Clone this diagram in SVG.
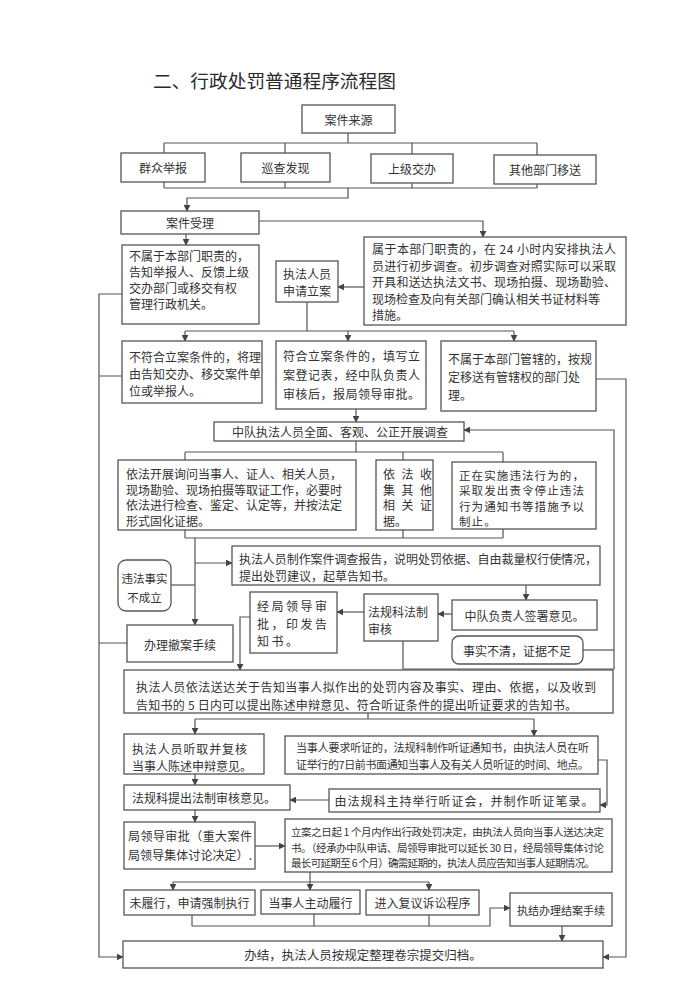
<svg xmlns="http://www.w3.org/2000/svg" width="700" height="989" viewBox="0 0 700 989">
<style>
  .b{fill:#fff;stroke:#555;stroke-width:1.3}
  .c{fill:none;stroke:#555;stroke-width:1.2}
  .t{font-family:"Noto Sans CJK SC","Noto Sans",sans-serif;font-size:12px;fill:#333;dominant-baseline:central}
  .m{text-anchor:middle}
  .s{font-size:11px}
  .xs{font-size:10.5px}
</style>
<defs>
  <marker id="ah" viewBox="0 0 10 10" refX="9" refY="5" markerWidth="7" markerHeight="7" markerUnits="userSpaceOnUse" orient="auto">
    <path d="M0,0 L10,5 L0,10 z" fill="#444"/>
  </marker>
</defs>
<rect width="700" height="989" fill="#fff"/>
<text x="153" y="79" class="t" style="font-size:18.7px;fill:#2a2a2a">二、行政处罚普通程序流程图</text>

<g id="connectors" class="c">
  <path d="M348,133 V143 M164,143 H537 M164,143 V153 M285,143 V153 M412,143 V154 M537,143 V155"/>
  <path d="M164,182 V188 M285,182 V188 M412,183 V188 M537,184 V188 M164,188 H537"/>
  <path d="M348,188 V198 H187 V211" marker-end="url(#ah)"/>
  <path d="M259,221 H483 V237" marker-end="url(#ah)"/>
  <path d="M186,234 V245" marker-end="url(#ah)"/>
  <path d="M364,287 H338" marker-end="url(#ah)"/>
  <path d="M307,302 V331 M185,331 H514"/>
  <path d="M185,331 V341" marker-end="url(#ah)"/>
  <path d="M348,331 V341" marker-end="url(#ah)"/>
  <path d="M514,331 V341" marker-end="url(#ah)"/>
  <path d="M122,294 H99 V957 H123" marker-end="url(#ah)"/>
  <path d="M122,376 H99 M127,643 H99"/>
  <path d="M596,379 H626 V957 H603" marker-end="url(#ah)"/>
  <path d="M356,409 V422" marker-end="url(#ah)"/>
  <path d="M403,641 V669 H614 V430 H464" marker-end="url(#ah)"/>
  <path d="M583,650 H614"/>
  <path d="M356,441 V452 M185,452 H503 M185,452 V460 M403,452 V460 M503,452 V462"/>
  <path d="M185,530 V538 M403,530 V538 M503,529 V538 M185,538 H503"/>
  <path d="M195,538 V625" marker-end="url(#ah)"/>
  <path d="M195,563 H232" marker-end="url(#ah)"/>
  <path d="M171,585 H195"/>
  <path d="M526,585 V600" marker-end="url(#ah)"/>
  <path d="M452,614 H438" marker-end="url(#ah)"/>
  <path d="M364,612 H337" marker-end="url(#ah)"/>
  <path d="M250,617 H240 V670" marker-end="url(#ah)"/>
  <path d="M368,713 V719 M195,719 H534"/>
  <path d="M195,719 V734" marker-end="url(#ah)"/>
  <path d="M534,719 V736" marker-end="url(#ah)"/>
  <path d="M195,774 V785" marker-end="url(#ah)"/>
  <path d="M329,800 H290" marker-end="url(#ah)"/>
  <path d="M598,760 H607 V805 H600" marker-end="url(#ah)"/>
  <path d="M195,810 V822" marker-end="url(#ah)"/>
  <path d="M255,846 H285" marker-end="url(#ah)"/>
  <path d="M310,872 V890" marker-end="url(#ah)"/>
  <path d="M173,882 H429"/>
  <path d="M173,882 V890" marker-end="url(#ah)"/>
  <path d="M429,882 V890" marker-end="url(#ah)"/>
  <path d="M192,915 V926 M314,914 V926 M429,915 V926"/>
  <path d="M192,926 H490 V908 H510" marker-end="url(#ah)"/>
  <path d="M562,926 V941" marker-end="url(#ah)"/>
</g>

<g id="n-source"><rect class="b" x="302" y="105" width="93" height="28"/><text class="t m" x="348.5" y="119">案件来源</text></g>
<g id="n-report"><rect class="b" x="121" y="153" width="84" height="29"/><text class="t m" x="163" y="167.5">群众举报</text></g>
<g id="n-patrol"><rect class="b" x="241" y="153" width="89" height="29"/><text class="t m" x="285.5" y="167.5">巡查发现</text></g>
<g id="n-superior"><rect class="b" x="371" y="154" width="82" height="29"/><text class="t m" x="412" y="168.5">上级交办</text></g>
<g id="n-transfer"><rect class="b" x="494" y="155" width="102" height="29"/><text class="t m" x="545" y="169.5">其他部门移送</text></g>
<g id="n-accept"><rect class="b" x="121" y="211" width="138" height="23"/><text class="t m" x="190" y="222.5">案件受理</text></g>
<g id="n-notduty"><rect class="b" x="122" y="245" width="137" height="79"/>
  <text class="t"><tspan x="129" y="255">不属于本部门职责的，</tspan><tspan x="129" y="271">告知举报人、反馈上级</tspan><tspan x="129" y="287">交办部门或移交有权</tspan><tspan x="129" y="303">管理行政机关。</tspan></text></g>
<g id="n-apply"><rect class="b" x="276" y="261" width="62" height="41"/>
  <text class="t m"><tspan x="307" y="273">执法人员</tspan><tspan x="307" y="290">申请立案</tspan></text></g>
<g id="n-duty"><rect class="b" x="364" y="237" width="262" height="88"/>
  <text class="t"><tspan x="372" y="248" textLength="244">属于本部门职责的，在 24 小时内安排执法人</tspan><tspan x="372" y="264.5" textLength="244">员进行初步调查。初步调查对照实际可以采取</tspan><tspan x="372" y="281" textLength="244">开具和送达执法文书、现场拍摄、现场勘验、</tspan><tspan x="372" y="297.5">现场检查及向有关部门确认相关书证材料等</tspan><tspan x="372" y="314">措施。</tspan></text></g>
<g id="n-nocase"><rect class="b" x="122" y="341" width="140" height="62"/>
  <text class="t"><tspan x="129" y="356">不符合立案条件的，将理</tspan><tspan x="129" y="373">由告知交办、移交案件单</tspan><tspan x="129" y="390">位或举报人。</tspan></text></g>
<g id="n-case"><rect class="b" x="276" y="341" width="150" height="68"/>
  <text class="t" style="letter-spacing:0.5px"><tspan x="283" y="355">符合立案条件的，填写立</tspan><tspan x="283" y="374">案登记表，经中队负责人</tspan><tspan x="283" y="393">审核后，报局领导审批。</tspan></text></g>
<g id="n-nojur"><rect class="b" x="441" y="341" width="155" height="70"/>
  <text class="t"><tspan x="448" y="358">不属于本部门管辖的，按规</tspan><tspan x="448" y="376">定移送有管辖权的部门处</tspan><tspan x="448" y="394">理。</tspan></text></g>
<g id="n-investigate"><rect class="b" x="214" y="422" width="250" height="19"/><text class="t m" x="340" y="431.5">中队执法人员全面、客观、公正开展调查</text></g>
<g id="n-inquire"><rect class="b" x="118" y="460" width="238" height="70"/>
  <text class="t"><tspan x="126" y="473">依法开展询问当事人、证人、相关人员，</tspan><tspan x="126" y="488.5">现场勘验、现场拍摄等取证工作，必要时</tspan><tspan x="126" y="504">依法进行检查、鉴定、认定等，并按法定</tspan><tspan x="126" y="519.5">形式固化证据。</tspan></text></g>
<g id="n-collect"><rect class="b" x="376" y="460" width="57" height="70"/>
  <text class="t" style="letter-spacing:6.5px"><tspan x="383" y="473">依法收</tspan><tspan x="383" y="488.5">集其他</tspan><tspan x="383" y="504">相关证</tspan><tspan x="383" y="519.5" style="letter-spacing:0">据。</tspan></text></g>
<g id="n-stop"><rect class="b" x="452" y="462" width="144" height="67"/>
  <text class="t" style="font-size:11.5px;letter-spacing:1.1px"><tspan x="459" y="474.5">正在实施违法行为的，</tspan><tspan x="459" y="490">采取发出责令停止违法</tspan><tspan x="459" y="505.5">行为通知书等措施予以</tspan><tspan x="459" y="521">制止。</tspan></text></g>
<g id="n-report2"><rect class="b" x="232" y="546" width="368" height="39"/>
  <text class="t"><tspan x="239" y="558" textLength="358">执法人员制作案件调查报告，说明处罚依据、自由裁量权行使情况，</tspan><tspan x="239" y="575">提出处罚建议，起草告知书。</tspan></text></g>
<g id="n-nofact"><rect class="b" x="118" y="560" width="53" height="51" rx="8"/>
  <text class="t m" style="font-size:11.5px"><tspan x="144.5" y="578">违法事实</tspan><tspan x="144.5" y="597">不成立</tspan></text></g>
<g id="n-withdraw"><rect class="b" x="127" y="625" width="106" height="37"/><text class="t m" x="180" y="644">办理撤案手续</text></g>
<g id="n-sign"><rect class="b" x="452" y="600" width="145" height="30"/><text class="t m" x="524.5" y="615.5">中队负责人签署意见。</text></g>
<g id="n-legal"><rect class="b" x="364" y="594" width="74" height="47"/>
  <text class="t"><tspan x="368" y="611">法规科法制</tspan><tspan x="368" y="628">审核</tspan></text></g>
<g id="n-approve"><rect class="b" x="250" y="592" width="87" height="61"/>
  <text class="t" style="letter-spacing:2.5px"><tspan x="257" y="605">经局领导审</tspan><tspan x="257" y="623">批，印发告</tspan><tspan x="257" y="640">知书。</tspan></text></g>
<g id="n-unclear"><rect class="b" x="452" y="636" width="131" height="28" rx="7"/><text class="t m" x="517" y="650">事实不清，证据不足</text></g>
<g id="n-notify"><rect class="b" x="124" y="670" width="489" height="43"/>
  <text class="t"><tspan x="136" y="686" textLength="460">执法人员依法送达关于告知当事人拟作出的处罚内容及事实、理由、依据，以及收到</tspan><tspan x="136" y="704" textLength="441">告知书的 5 日内可以提出陈述申辩意见、符合听证条件的提出听证要求的告知书。</tspan></text></g>
<g id="n-listen"><rect class="b" x="124" y="734" width="140" height="40"/>
  <text class="t"><tspan x="132" y="748" textLength="115">执法人员听取并复核</tspan><tspan x="132" y="765">当事人陈述申辩意见。</tspan></text></g>
<g id="n-hearing"><rect class="b" x="285" y="736" width="313" height="38"/>
  <text class="t s"><tspan x="296" y="747" textLength="293">当事人要求听证的，法规科制作听证通知书，由执法人员在听</tspan><tspan x="296" y="764" textLength="293">证举行的7日前书面通知当事人及有关人员听证的时间、地点。</tspan></text></g>
<g id="n-opinion"><rect class="b" x="124" y="785" width="166" height="25"/><text class="t" x="132" y="797.5">法规科提出法制审核意见。</text></g>
<g id="n-hold"><rect class="b" x="329" y="789" width="271" height="23"/><text class="t m" x="464.5" y="800.5" style="letter-spacing:1px">由法规科主持举行听证会，并制作听证笔录。</text></g>
<g id="n-leader"><rect class="b" x="124" y="822" width="131" height="47"/>
  <text class="t"><tspan x="128" y="835" textLength="124">局领导审批（重大案件</tspan><tspan x="128" y="854" textLength="124">局领导集体讨论决定）.</tspan></text></g>
<g id="n-decide"><rect class="b" x="285" y="819" width="327" height="53"/>
  <text class="t xs"><tspan x="291" y="831" textLength="313">立案之日起 1 个月内作出行政处罚决定，由执法人员向当事人送达决定</tspan><tspan x="291" y="846.5" textLength="313">书。（经承办中队申请、局领导审批可以延长 30 日，经局领导集体讨论</tspan><tspan x="291" y="862" textLength="304">最长可延期至 6 个月）确需延期的，执法人员应告知当事人延期情况。</tspan></text></g>
<g id="n-force"><rect class="b" x="124" y="890" width="131" height="25"/><text class="t m" x="189.5" y="902.5">未履行，申请强制执行</text></g>
<g id="n-perform"><rect class="b" x="261" y="890" width="99" height="24"/><text class="t m" x="310.5" y="902">当事人主动履行</text></g>
<g id="n-review"><rect class="b" x="366" y="890" width="113" height="25"/><text class="t m" x="422.5" y="902.5">进入复议诉讼程序</text></g>
<g id="n-close"><rect class="b" x="510" y="893" width="102" height="33"/><text class="t m s" x="561" y="909.5">执结办理结案手续</text></g>
<g id="n-archive"><rect class="b" x="123" y="941" width="480" height="27"/><text class="t m" x="363" y="954.5" style="font-size:12.5px">办结，执法人员按规定整理卷宗提交归档。</text></g>
</svg>
